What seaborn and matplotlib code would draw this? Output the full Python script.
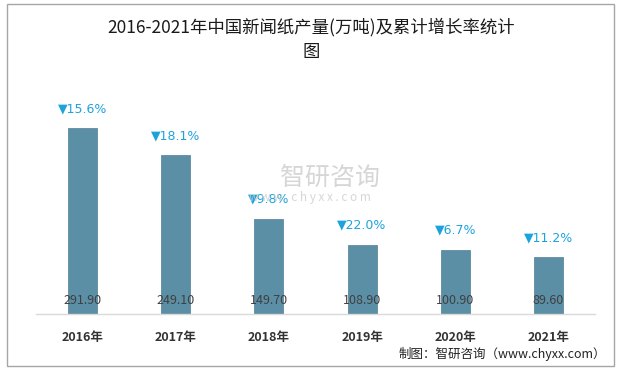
import matplotlib
matplotlib.use("Agg")
import matplotlib.pyplot as plt
import seaborn as sns
import pandas as pd
from matplotlib.patches import Rectangle

# --- dati ---
years = ["2016年", "2017年", "2018年", "2019年", "2020年", "2021年"]
output = [291.90, 249.10, 149.70, 108.90, 100.90, 89.60]
growth = ["15.6%", "18.1%", "9.8%", "22.0%", "6.7%", "11.2%"]

sns.set_theme(style="white")
plt.rcParams["font.family"] = ["Noto Sans CJK SC", "DejaVu Sans"]

df = pd.DataFrame({"year": years, "output": output})

fig = plt.figure(figsize=(6.22, 3.71), dpi=100)
ax = fig.add_axes([36 / 622, 57 / 371, 559 / 622, 234 / 371])

sns.barplot(data=df, x="year", y="output", color="#5b8fa6", width=0.31,
            saturation=1, edgecolor="#4f7f96", linewidth=0.5, ax=ax)

ax.set_ylim(0, 367)
ax.set_xlim(-0.5, 5.5)
ax.set_xlabel("")
ax.set_ylabel("")
ax.set_yticks([])
for s in ["top", "right", "left"]:
    ax.spines[s].set_visible(False)
ax.spines["bottom"].set_color("#d9d9d9")
ax.spines["bottom"].set_linewidth(1)
ax.tick_params(axis="x", length=0, pad=12)
for lbl in ax.get_xticklabels():
    lbl.set_fontsize(9)
    lbl.set_fontweight("bold")
    lbl.set_color("#333333")

# watermark (sotto le etichette)
fig.text(330 / 622, 1 - 178 / 371, "智研咨询", ha="center", va="center",
         fontsize=18, color="#cccccc", alpha=0.8, zorder=0)
fig.text(310 / 622, 1 - 198 / 371, "w w w . c h y x x . c o m", ha="center",
         va="center", fontsize=8.5, color="#cccccc", alpha=0.8, zorder=0)

# etichette valore e crescita
for i, p in enumerate(ax.patches):
    h = p.get_height()
    cx = p.get_x() + p.get_width() / 2
    ax.annotate(f"{h:.2f}", (cx, 0), xytext=(0, 9.5), textcoords="offset points",
                ha="center", va="center", fontsize=9, color="#404040")
    ax.annotate("▼" + growth[i], (cx, h), xytext=(0, 14), textcoords="offset points",
                ha="center", va="center", fontsize=9, color="#1ca3dc",
                family=["DejaVu Sans"])

# titolo
fig.text(0.5, 1 - 27 / 371, "2016-2021年中国新闻纸产量(万吨)及累计增长率统计", ha="center",
         va="center", fontsize=12.5, fontweight="medium", color="#1a1a1a")
fig.text(0.5, 1 - 52 / 371, "图", ha="center", va="center", fontsize=12.5,
         fontweight="medium", color="#1a1a1a")

# fonte
fig.text(606 / 622, 1 - 354 / 371, "制图：智研咨询（www.chyxx.com）", ha="right",
         va="center", fontsize=9, color="#222222")

# cornice
fig.patches.append(Rectangle((7 / 622, 1 - 366 / 371), 607 / 622, 362 / 371,
                             transform=fig.transFigure, fill=False,
                             edgecolor="#a6a6a6", linewidth=1))

fig.savefig("out.png", dpi=100)
